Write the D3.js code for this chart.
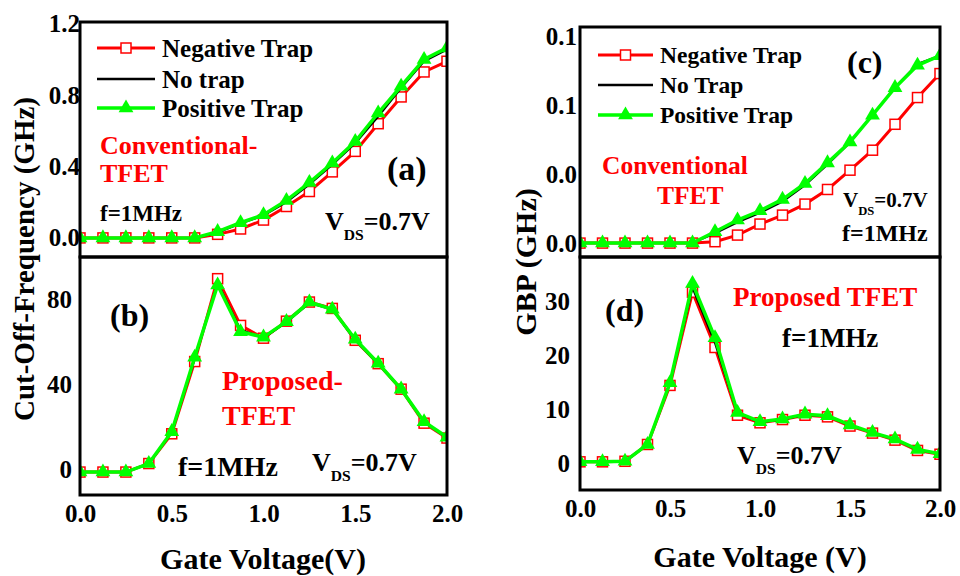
<!DOCTYPE html>
<html>
<head>
<meta charset="utf-8">
<script src="https://cdn.jsdelivr.net/npm/d3@7"></script>
<style>
  html, body { margin: 0; padding: 0; background: #fff; }
  svg { display: block; }
  text { font-family: "Liberation Serif", Tinos, "Times New Roman", Times, "DejaVu Serif", serif; font-weight: bold; }
</style>
</head>
<body>
<svg id="chart" width="960" height="576"></svg>
<script>
// Gate voltage sweep (V)
const gateVoltage = [0, 0.125, 0.25, 0.375, 0.5, 0.625, 0.75, 0.875, 1.0, 1.125, 1.25, 1.375, 1.5, 1.625, 1.75, 1.875, 2.0];

// (a) Conventional TFET cut-off frequency (GHz)
const cutoffConvNegative = [0, 0, 0, 0, 0, 0, 0.02, 0.05, 0.10, 0.176, 0.26, 0.37, 0.485, 0.64, 0.79, 0.93, 0.99];
const cutoffConvNone     = [0, 0, 0, 0, 0, 0, 0.03, 0.08, 0.125, 0.20, 0.30, 0.41, 0.53, 0.68, 0.84, 0.99, 1.055];
const cutoffConvPositive = [0, 0, 0, 0, 0, 0, 0.035, 0.085, 0.13, 0.21, 0.31, 0.42, 0.54, 0.70, 0.85, 1.0, 1.065];

// (b) Proposed TFET cut-off frequency (GHz)
const cutoffPropNegative = [-1, -1, -1, 3, 17, 51, 90, 68, 62, 70, 79, 76, 61, 50, 38, 22, 15];
const cutoffPropNone     = [-1, -1, -1, 3, 17.5, 52, 88, 66, 62, 69.5, 78.5, 75.5, 61, 50, 38, 22.5, 15];
const cutoffPropPositive = [-1, -1, -1, 3, 18, 53, 87, 65, 62.5, 69.8, 79, 75.6, 61.5, 50.2, 38, 22.7, 15.4];

// (c) Conventional TFET gain-bandwidth product (GHz)
const gbpConvNegative = [0, 0, 0, 0, 0, 0, 0.001, 0.0058, 0.0138, 0.0203, 0.0283, 0.0389, 0.0529, 0.0674, 0.0862, 0.1056, 0.123];
const gbpConvNone     = [0, 0, 0, 0, 0, 0, 0.007, 0.015, 0.022, 0.030, 0.042, 0.057, 0.073, 0.093, 0.113, 0.130, 0.136];
const gbpConvPositive = [0, 0, 0, 0, 0, 0, 0.0082, 0.0167, 0.0234, 0.0317, 0.0432, 0.0582, 0.0734, 0.0928, 0.1128, 0.129, 0.136];

// (d) Proposed TFET gain-bandwidth product (GHz)
const gbpPropNegative = [0.4, 0.4, 0.5, 3.6, 14.5, 31.7, 21.5, 9.0, 7.6, 8.2, 9.0, 8.7, 7.0, 5.7, 4.4, 2.5, 1.8];
const gbpPropNone     = [0.4, 0.4, 0.5, 3.6, 14.8, 32.5, 22.3, 9.3, 7.7, 8.2, 9.1, 8.8, 7.1, 5.8, 4.5, 2.6, 1.9];
const gbpPropPositive = [0.4, 0.4, 0.5, 3.6, 15.0, 33.3, 23.3, 9.5, 7.8, 8.3, 9.2, 8.9, 7.2, 5.8, 4.6, 2.7, 1.9];

// Tick values and labels
const xTicks = [0, 0.5, 1.0, 1.5, 2.0];
const xTickLabels = ["0.0", "0.5", "1.0", "1.5", "2.0"];
const yTicksA = [0, 0.4, 0.8, 1.2];
const yTickLabelsA = ["0.0", "0.4", "0.8", "1.2"];
const yTicksB = [0, 40, 80];
const yTickLabelsB = ["0", "40", "80"];
const yTicksC = [0, 0.05, 0.10, 0.15];
const yTickLabelsC = ["0.0", "0.0", "0.1", "0.1"];
const yTicksD = [0, 10, 20, 30];
const yTickLabelsD = ["0", "10", "20", "30"];

const legendLabelsLeft = ["Negative Trap", "No trap", "Positive Trap"];
const legendLabelsRight = ["Negative Trap", "No Trap", "Positive Trap"];

const RED = "#ff0000", GREEN = "#00ff00", BLACK = "#000000";
const FONT = '"Liberation Serif", Tinos, "Times New Roman", Times, "DejaVu Serif", serif';

const svg = d3.select("#chart");
svg.append("rect").attr("width", 960).attr("height", 576).attr("fill", "#fff");

let clipCount = 0;

function drawPanel(p) {
  const x = d3.scaleLinear().domain([0, 2]).range([p.left, p.right]);
  const y = d3.scaleLinear().domain(p.yDomain).range([p.bottom, p.top]);
  const g = svg.append("g");

  const clipId = "clip" + (clipCount++);
  g.append("clipPath").attr("id", clipId)
    .append("rect").attr("x", p.left).attr("y", p.top)
    .attr("width", p.right - p.left).attr("height", p.bottom - p.top);

  // y axis tick labels
  const yAxis = d3.axisLeft(y).tickValues(p.yTicks)
    .tickFormat((d, i) => p.yTickLabels[i]).tickSize(0).tickPadding(p.yPad);
  const ya = g.append("g").attr("transform", `translate(${p.left},0)`).call(yAxis);
  ya.attr("font-family", FONT);
  ya.select(".domain").remove();
  ya.selectAll("text").attr("font-size", 25).attr("fill", "#000")
    .attr("font-family", FONT).attr("font-weight", "bold");

  if (p.showX) {
    const xAxis = d3.axisBottom(x).tickValues(xTicks)
      .tickFormat((d, i) => xTickLabels[i]).tickSize(0).tickPadding(p.xPad);
    const xa = g.append("g").attr("transform", `translate(0,${p.bottom})`).call(xAxis);
    xa.attr("font-family", FONT);
    xa.select(".domain").remove();
    xa.selectAll("text").attr("font-size", 25).attr("fill", "#000")
      .attr("font-family", FONT).attr("font-weight", "bold");
  }

  const plot = g.append("g").attr("clip-path", `url(#${clipId})`);
  const line = d3.line().x((d, i) => x(gateVoltage[i])).y(d => y(d));

  // Negative trap: red line, open squares
  plot.append("path").datum(p.neg).attr("d", line)
    .attr("fill", "none").attr("stroke", RED).attr("stroke-width", 3);
  plot.selectAll(".sq").data(p.neg).join("rect")
    .attr("x", (d, i) => x(gateVoltage[i]) - 5).attr("y", d => y(d) - 5)
    .attr("width", 10).attr("height", 10)
    .attr("fill", "#fff").attr("stroke", RED).attr("stroke-width", 1.5);

  // No trap: thin black line
  plot.append("path").datum(p.none).attr("d", line)
    .attr("fill", "none").attr("stroke", BLACK).attr("stroke-width", 2);

  // Positive trap: green line, filled triangles
  plot.append("path").datum(p.pos).attr("d", line)
    .attr("fill", "none").attr("stroke", GREEN).attr("stroke-width", 3.5);
  const tri = d3.symbol().type(d3.symbolTriangle).size(95);
  plot.selectAll(".tri").data(p.pos).join("path")
    .attr("d", tri)
    .attr("transform", (d, i) => `translate(${x(gateVoltage[i])},${y(d)})`)
    .attr("fill", GREEN);

  // frame
  g.append("rect").attr("x", p.left).attr("y", p.top)
    .attr("width", p.right - p.left).attr("height", p.bottom - p.top)
    .attr("fill", "none").attr("stroke", "#000").attr("stroke-width", 3);
}

function drawLegend(lx0, lx1, textX, rows, labels, fontSize) {
  const g = svg.append("g");
  const mid = (lx0 + lx1) / 2;
  g.append("line").attr("x1", lx0).attr("x2", lx1).attr("y1", rows[0]).attr("y2", rows[0])
    .attr("stroke", RED).attr("stroke-width", 3);
  g.append("rect").attr("x", mid - 5).attr("y", rows[0] - 5).attr("width", 10).attr("height", 10)
    .attr("fill", "#fff").attr("stroke", RED).attr("stroke-width", 1.5);
  g.append("line").attr("x1", lx0).attr("x2", lx1).attr("y1", rows[1]).attr("y2", rows[1])
    .attr("stroke", BLACK).attr("stroke-width", 2.5);
  g.append("line").attr("x1", lx0).attr("x2", lx1).attr("y1", rows[2]).attr("y2", rows[2])
    .attr("stroke", GREEN).attr("stroke-width", 3.5);
  g.append("path").attr("d", d3.symbol().type(d3.symbolTriangle).size(95))
    .attr("transform", `translate(${mid},${rows[2]})`).attr("fill", GREEN);
  labels.forEach((t, i) => {
    g.append("text").attr("x", textX).attr("y", rows[i]).attr("dy", "0.35em")
      .attr("font-size", fontSize).attr("fill", "#000").text(t);
  });
}

function label(txt, xPos, yCenter, size, color, anchor) {
  svg.append("text").attr("x", xPos).attr("y", yCenter).attr("dy", "0.35em")
    .attr("font-size", size).attr("fill", color || "#000")
    .attr("text-anchor", anchor || "start").text(txt);
}

function vdsLabel(xPos, yCenter, size) {
  const t = svg.append("text").attr("x", xPos).attr("y", yCenter).attr("dy", "0.35em")
    .attr("font-size", size).attr("fill", "#000");
  t.append("tspan").text("V");
  t.append("tspan").attr("font-size", size * 0.6).attr("dy", size * 0.38).text("DS");
  t.append("tspan").attr("dy", -size * 0.38).text("=0.7V");
}

// Left column
drawPanel({ left: 80, right: 447, top: 22, bottom: 257, yDomain: [-0.107, 1.21],
  yTicks: yTicksA, yTickLabels: yTickLabelsA, yPad: 0, showX: false,
  neg: cutoffConvNegative, none: cutoffConvNone, pos: cutoffConvPositive });
drawPanel({ left: 80, right: 447, top: 257, bottom: 495, yDomain: [-11.8, 100.2],
  yTicks: yTicksB, yTickLabels: yTickLabelsB, yPad: 8, showX: true, xPad: 9,
  neg: cutoffPropNegative, none: cutoffPropNone, pos: cutoffPropPositive });

// Right column
drawPanel({ left: 580, right: 940, top: 27, bottom: 257, yDomain: [-0.0101, 0.1568],
  yTicks: yTicksC, yTickLabels: yTickLabelsC, yPad: 3, showX: false,
  neg: gbpConvNegative, none: gbpConvNone, pos: gbpConvPositive });
drawPanel({ left: 580, right: 940, top: 257, bottom: 490, yDomain: [-4.8, 38.2],
  yTicks: yTicksD, yTickLabels: yTickLabelsD, yPad: 10, showX: true, xPad: 9,
  neg: gbpPropNegative, none: gbpPropNone, pos: gbpPropPositive });

// Legends
drawLegend(97, 155, 162, [48, 79, 108], legendLabelsLeft, 25);
drawLegend(598, 653, 660, [55, 85, 115], legendLabelsRight, 23.5);

// Axis titles
svg.append("text").attr("transform", "translate(24,259) rotate(-90)")
  .attr("text-anchor", "middle").attr("dy", "0.35em").attr("font-size", 29).attr("fill", "#000")
  .text("Cut-Off-Frequency (GHz)");
svg.append("text").attr("transform", "translate(525,262) rotate(-90)")
  .attr("text-anchor", "middle").attr("dy", "0.35em").attr("font-size", 30).attr("fill", "#000")
  .text("GBP (GHz)");
label("Gate Voltage(V)", 263, 558, 30, "#000", "middle");
label("Gate Voltage (V)", 760, 556, 30, "#000", "middle");

// Panel annotations (a)
label("Conventional-", 100, 145, 26, RED);
label("TFET", 100, 173, 26, RED);
label("(a)", 387, 168, 34);
label("f=1MHz", 100, 213, 23);
vdsLabel(325, 221, 26);

// (b)
label("(b)", 110, 315, 32);
label("Proposed-", 222, 380, 28, RED);
label("TFET", 222, 415, 28, RED);
label("f=1MHz", 178, 466, 28);
vdsLabel(312, 462, 26);

// (c)
label("(c)", 847, 62, 32);
label("Conventional", 602, 165, 25.5, RED);
label("TFET", 657, 195, 25.5, RED);
vdsLabel(843, 200, 21);
label("f=1MHz", 842, 233, 24);

// (d)
label("(d)", 605, 310, 32);
label("Proposed TFET", 733, 297, 27, RED);
label("f=1MHz", 782, 338, 27);
vdsLabel(737, 455, 26);
</script>
</body>
</html>
